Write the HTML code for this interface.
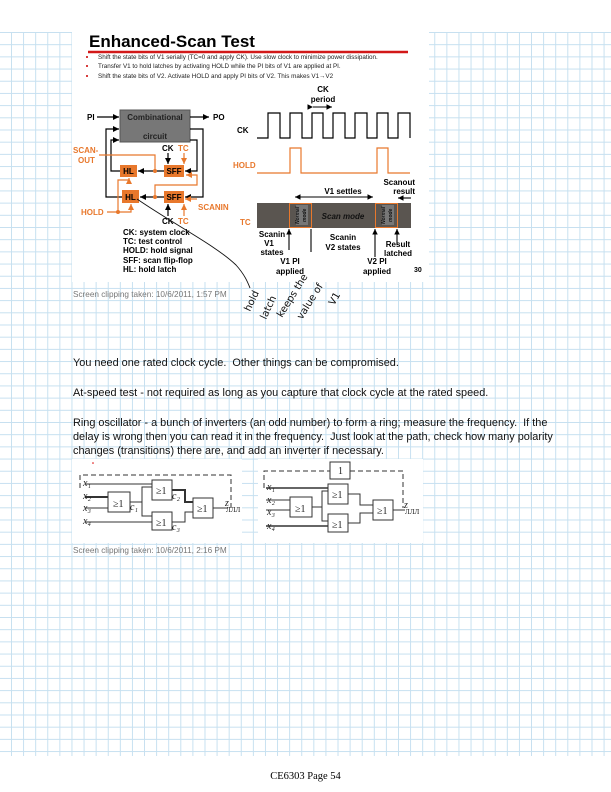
<!DOCTYPE html>
<html><head><meta charset="utf-8"><style>
html,body{margin:0;padding:0;background:#fff}
body{width:611px;height:792px;position:relative;overflow:hidden;font-family:"Liberation Sans",sans-serif}
.grid{position:absolute;left:0;top:32px;width:611px;height:724px;
background-image:linear-gradient(to right,#c6e0f0 1px,transparent 1px),linear-gradient(to bottom,#c6e0f0 1px,transparent 1px);
background-size:12.1px 12.2px;background-position:11px 0}
.t{position:absolute;left:73px;font-size:10.9px;color:#111;white-space:nowrap}
.clip{position:absolute;left:73px;font-size:8.2px;color:#777;white-space:nowrap}
</style></head><body>
<div class="grid"></div>
<div style="position:absolute;left:72px;top:30px;width:357px;height:252px;background:#fff"></div>
<div style="position:absolute;left:72px;top:459px;width:170px;height:84px;background:#fff"></div>
<div style="position:absolute;left:258px;top:459px;width:165px;height:84px;background:#fff"></div>

<svg width="611" height="792" style="position:absolute;left:0;top:0" font-family="Liberation Sans, sans-serif">
<defs>
<marker id="a" markerWidth="6" markerHeight="6" refX="5" refY="3" orient="auto"><path d="M0,0.5L5,3L0,5.5z" fill="#000"/></marker>
<marker id="o" markerWidth="6" markerHeight="6" refX="5" refY="3" orient="auto"><path d="M0,0.5L5,3L0,5.5z" fill="#e8782c"/></marker>
</defs>
<text x="89" y="47" font-size="17" font-weight="bold">Enhanced-Scan Test</text>
<line x1="88" y1="52" x2="408" y2="52" stroke="#d21818" stroke-width="2.5"/>
<g font-size="6.3" fill="#222">
<circle cx="87" cy="57" r="1" fill="#c00"/><text x="98" y="59">Shift the state bits of  V1 serially (TC=0 and apply CK). Use slow clock to minimize power dissipation.</text>
<circle cx="87" cy="66" r="1" fill="#c00"/><text x="98" y="68">Transfer V1 to hold latches by activating HOLD while the PI bits of V1 are applied at PI.</text>
<circle cx="87" cy="76" r="1" fill="#c00"/><text x="98" y="78">Shift the state bits of V2. Activate HOLD and apply PI bits of V2. This makes V1→V2</text>
</g>
<rect x="120" y="110" width="70" height="32" fill="#777" stroke="#555"/>
<g font-size="8" font-weight="bold">
<text x="155" y="120" text-anchor="middle" fill="#222">Combinational</text>
<text x="155" y="139" text-anchor="middle" fill="#222">circuit</text>
<text x="87" y="120">PI</text><text x="213" y="120">PO</text>
</g>
<g stroke="#000" stroke-width="1.2" fill="none">
<line x1="97" y1="117" x2="119" y2="117" marker-end="url(#a)"/>
<line x1="190" y1="117" x2="209" y2="117" marker-end="url(#a)"/>
<polyline points="122,197 106,197 106,129 119,129" marker-end="url(#a)"/>
<polyline points="120,171 111,171 111,140 119,140" marker-end="url(#a)"/>
<polyline points="190,129 203,129 203,197 185,197" marker-end="url(#a)"/>
<polyline points="190,140 197,140 197,171 185,171" marker-end="url(#a)"/>
<line x1="164" y1="171" x2="138" y2="171" marker-end="url(#a)"/>
<line x1="164" y1="197" x2="140" y2="197" marker-end="url(#a)"/>
<line x1="168" y1="153" x2="168" y2="164" marker-end="url(#a)"/>
<line x1="168" y1="216" x2="168" y2="204" marker-end="url(#a)"/>
</g>
<g stroke="#e8782c" stroke-width="1.2" fill="none">
<polyline points="155,171 155,155 99,155"/>
<polyline points="155,197 155,185 197,185 197,175 186,175" marker-end="url(#o)"/>
<line x1="184" y1="153" x2="184" y2="164" marker-end="url(#o)"/>
<line x1="184" y1="216" x2="184" y2="204" marker-end="url(#o)"/>
<line x1="197" y1="199" x2="185" y2="199" marker-end="url(#o)"/>
<polyline points="107,212 131,212 131,204" marker-end="url(#o)"/>
<polyline points="118,212 118,180 129,180 129,178" marker-end="url(#o)"/>
</g>
<circle cx="155" cy="171" r="2" fill="#e8782c"/><circle cx="155" cy="197" r="2" fill="#e8782c"/><circle cx="118" cy="212" r="2" fill="#e8782c"/>
<g fill="#e8782c"><rect x="120" y="165" width="17" height="12"/><rect x="122" y="190" width="17" height="13"/><rect x="164" y="165" width="20" height="12"/><rect x="164" y="191" width="20" height="12"/></g>
<g font-size="8" font-weight="bold">
<text x="128.5" y="174" text-anchor="middle">HL</text><text x="130.5" y="200" text-anchor="middle">HL</text>
<text x="174" y="174" text-anchor="middle">SFF</text><text x="174" y="200" text-anchor="middle">SFF</text>
<text x="162" y="151">CK</text><text x="178" y="151" fill="#e8782c">TC</text>
<text x="162" y="224">CK</text><text x="178" y="224" fill="#e8782c">TC</text>
<g fill="#e8782c"><text x="73" y="153">SCAN-</text><text x="78" y="163">OUT</text><text x="81" y="215">HOLD</text><text x="198" y="210">SCANIN</text>
<text x="233" y="168">HOLD</text><text x="240" y="225">TC</text></g>
<text x="237" y="133">CK</text>
<text x="123" y="235">CK: system clock</text><text x="123" y="244">TC:  test control</text><text x="123" y="253">HOLD: hold signal</text><text x="123" y="263">SFF: scan flip-flop</text><text x="123" y="272">HL: hold latch</text>
<text x="323" y="92" text-anchor="middle">CK</text><text x="323" y="102" text-anchor="middle">period</text>
<text x="343" y="194" text-anchor="middle">V1 settles</text>
<text x="415" y="185" text-anchor="end">Scanout</text><text x="415" y="194" text-anchor="end">result</text>
<text x="272" y="237" text-anchor="middle">Scanin</text><text x="269" y="246" text-anchor="middle">V1</text><text x="272" y="255" text-anchor="middle">states</text>
<text x="290" y="264" text-anchor="middle">V1 PI</text><text x="290" y="274" text-anchor="middle">applied</text>
<text x="343" y="240" text-anchor="middle">Scanin</text><text x="343" y="250" text-anchor="middle">V2 states</text>
<text x="377" y="264" text-anchor="middle">V2 PI</text><text x="377" y="274" text-anchor="middle">applied</text>
<text x="398" y="247" text-anchor="middle">Result</text><text x="398" y="256" text-anchor="middle">latched</text>
<text x="414" y="272" font-size="7">30</text>
</g>
<path d="M257,138H268V113H280V138H290V113H302V138H312V113H323V138H333V113H345V138H355V113H367V138H377V113H388V138H398V113H410V138" fill="none" stroke="#000" stroke-width="1.2"/>
<path d="M257,173H290V148H301V173H377V148H388V173H410" fill="none" stroke="#e8782c" stroke-width="1.2"/>
<g stroke="#000" stroke-width="1.1"><line x1="313" y1="107" x2="332" y2="107" marker-end="url(#a)" marker-start="url(#a)"/>
<line x1="296" y1="197" x2="373" y2="197" marker-end="url(#a)"/><line x1="330" y1="197" x2="295" y2="197" marker-end="url(#a)"/>
<line x1="411" y1="198" x2="398" y2="198" marker-end="url(#a)"/></g>
<rect x="257" y="203" width="154" height="25" fill="#5a5550"/>
<rect x="289.5" y="203.5" width="22" height="24" fill="#5a5550" stroke="#e8782c"/>
<rect x="375.5" y="203.5" width="22" height="24" fill="#5a5550" stroke="#e8782c"/>
<rect x="296" y="205" width="12" height="20" fill="#777"/><rect x="382" y="205" width="12" height="20" fill="#777"/>
<g font-size="5" font-weight="bold" font-style="italic" fill="#111">
<text transform="translate(299,224) rotate(-90)">Normal</text><text transform="translate(306,222) rotate(-90)">mode</text>
<text transform="translate(385,224) rotate(-90)">Normal</text><text transform="translate(392,222) rotate(-90)">mode</text>
</g>
<text x="343" y="219" font-size="8" font-weight="bold" font-style="italic" text-anchor="middle" fill="#111">Scan mode</text>
<g stroke="#000" stroke-width="1.1"><line x1="289" y1="250" x2="289" y2="229" marker-end="url(#a)"/><line x1="311" y1="229" x2="311" y2="252"/>
<line x1="375" y1="257" x2="375" y2="229" marker-end="url(#a)"/><line x1="397" y1="245" x2="397" y2="229" marker-end="url(#a)"/></g>
<path d="M137,199C175,225 215,245 236,265C245,275 248,283 250,288" fill="none" stroke="#111" stroke-width="0.9"/>
<g font-family="DejaVu Sans, sans-serif" font-size="10" fill="#111">
<text transform="translate(250,312) rotate(-65)">hold</text>
<text transform="translate(266,320) rotate(-65)">latch</text>
<text transform="translate(282,318) rotate(-58)">keeps the</text>
<text transform="translate(302,320) rotate(-58)">value of</text>
<text transform="translate(334,306) rotate(-60)">V1</text>
</g>
<g stroke="#333" stroke-width="1" fill="none">
<path d="M80,488V475H231V508H226" stroke-dasharray="5,3"/>
<line x1="85" y1="484" x2="152" y2="484"/><line x1="85" y1="497" x2="108" y2="497" stroke-width="2"/><line x1="85" y1="508" x2="108" y2="508"/><line x1="85" y1="522" x2="152" y2="522"/>
<rect x="108" y="492" width="22" height="20"/><polyline points="130,502 142,502 142,487 152,487"/><polyline points="142,502 142,516 152,516"/>
<rect x="152" y="480" width="20" height="20"/><rect x="152" y="512" width="20" height="18"/>
<polyline points="172,490 185,490 185,502 193,502" stroke-width="2"/><polyline points="172,522 185,522 185,512 193,512"/>
<rect x="193" y="498" width="20" height="20"/><line x1="213" y1="508" x2="226" y2="508"/>
<path d="M264,488V471H330M350,471H403V508" stroke-dasharray="5,3"/><rect x="330" y="462" width="20" height="17"/>
<line x1="266" y1="488" x2="328" y2="488" stroke-width="1.6"/><line x1="266" y1="500" x2="290" y2="500"/><line x1="266" y1="510" x2="290" y2="510"/><line x1="266" y1="526" x2="328" y2="526" stroke-width="1.6"/>
<rect x="290" y="497" width="22" height="20"/><polyline points="312,507 322,507 322,491 328,491"/><polyline points="322,507 322,521 328,521"/>
<rect x="328" y="484" width="20" height="20"/><rect x="328" y="514" width="20" height="18"/>
<polyline points="348,494 360,494 360,505 373,505"/><polyline points="348,523 360,523 360,513 373,513"/>
<rect x="373" y="500" width="20" height="20"/><line x1="393" y1="510" x2="405" y2="510"/>
</g>
<g font-family="Liberation Serif, serif" font-size="10" font-style="italic" fill="#222">
<text x="83" y="486">x₁</text><text x="83" y="499">x₂</text><text x="83" y="511">x₃</text><text x="83" y="524">x₄</text>
<text x="113" y="507" font-style="normal">≥1</text><text x="156" y="494" font-style="normal">≥1</text><text x="156" y="526" font-style="normal">≥1</text><text x="197" y="512" font-style="normal">≥1</text>
<text x="130" y="510">c₁</text><text x="172" y="499">c₂</text><text x="172" y="530">c₃</text><text x="225" y="506">z</text><text x="226" y="512" font-size="7" font-style="normal">ЛЛЛ</text>
<text x="267" y="490">x₁</text><text x="267" y="503">x₂</text><text x="267" y="515">x₃</text><text x="267" y="529">x₄</text>
<text x="295" y="512" font-style="normal">≥1</text><text x="332" y="498" font-style="normal">≥1</text><text x="332" y="528" font-style="normal">≥1</text><text x="377" y="514" font-style="normal">≥1</text>
<text x="338" y="474" font-style="normal">1</text><text x="404" y="508">z</text><text x="405" y="514" font-size="7" font-style="normal">ЛЛЛ</text>
</g>
<circle cx="93" cy="463" r="0.8" fill="#d00"/>
</svg>

<div class="clip" style="top:290px">Screen clipping taken: 10/6/2011, 1:57 PM</div>
<div class="t" style="top:357px">You need one rated clock cycle.&nbsp; Other things can be compromised.</div>
<div class="t" style="top:387px">At-speed test - not required as long as you capture that clock cycle at the rated speed.</div>
<div class="t" style="top:417px">Ring oscillator - a bunch of inverters (an odd number) to form a ring; measure the frequency.&nbsp; If the</div>
<div class="t" style="top:431px">delay is wrong then you can read it in the frequency.&nbsp; Just look at the path, check how many polarity</div>
<div class="t" style="top:445px">changes (transitions) there are, and add an inverter if necessary.</div>
<div class="clip" style="top:546px">Screen clipping taken: 10/6/2011, 2:16 PM</div>
<div style="position:absolute;left:0;width:611px;top:771px;text-align:center;font-family:'Liberation Serif',serif;font-size:10.5px">CE6303 Page 54</div>
</body></html>
